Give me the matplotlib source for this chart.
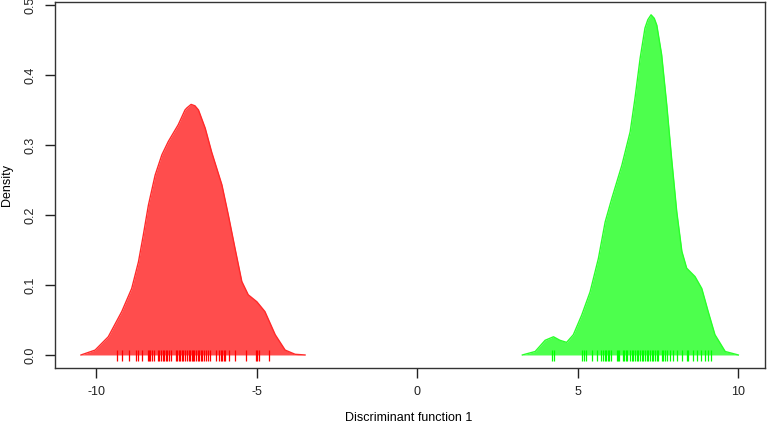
import matplotlib
matplotlib.use('Agg')
import matplotlib.pyplot as plt

plt.rcParams['font.family'] = ['Liberation Sans', 'DejaVu Sans']

# density curves (x, density)
red_x = [-10.47, -10.03, -9.62, -9.20, -8.89, -8.68, -8.53, -8.37, -8.16, -7.95,
         -7.75, -7.44, -7.23, -7.17, -7.04, -6.92, -6.81, -6.60, -6.40, -6.08,
         -5.88, -5.67, -5.46, -5.26, -4.99, -4.74, -4.42, -4.11, -3.80, -3.49]
red_d = [0.0, 0.007, 0.026, 0.062, 0.095, 0.133, 0.171, 0.214, 0.257, 0.286,
         0.305, 0.329, 0.350, 0.353, 0.358, 0.356, 0.350, 0.324, 0.290, 0.243,
         0.200, 0.152, 0.105, 0.086, 0.076, 0.062, 0.029, 0.007, 0.001, 0.0]

green_x = [3.28, 3.68, 3.99, 4.25, 4.45, 4.66, 4.87, 5.13, 5.39, 5.65,
           5.86, 6.07, 6.38, 6.64, 6.79, 6.95, 7.10, 7.19, 7.29, 7.39, 7.47,
           7.62, 7.78, 7.93, 8.09, 8.25, 8.40, 8.66, 8.87, 9.07, 9.28, 9.60, 10.01]
green_d = [0.0, 0.005, 0.021, 0.026, 0.021, 0.018, 0.029, 0.057, 0.090, 0.138,
           0.190, 0.224, 0.271, 0.319, 0.367, 0.424, 0.467, 0.479, 0.486, 0.481, 0.471,
           0.429, 0.357, 0.281, 0.205, 0.148, 0.124, 0.112, 0.095, 0.062, 0.029, 0.005, 0.0]

# individual scores (rug)
red_rug = [-9.36, -9.20, -8.96, -8.76, -8.68, -8.57, -8.39, -8.35, -8.32, -8.26,
           -8.21, -8.08, -8.03, -7.98, -7.93, -7.88, -7.82, -7.78, -7.72, -7.67,
           -7.52, -7.47, -7.42, -7.38, -7.33, -7.28, -7.22, -7.17, -7.12, -7.07,
           -7.02, -6.99, -6.94, -6.88, -6.84, -6.79, -6.74, -6.70, -6.64, -6.57,
           -6.50, -6.45, -6.27, -6.16, -6.12, -6.07, -6.03, -5.98, -5.85, -5.67,
           -5.34, -5.02, -4.98, -4.91, -4.62]
green_rug = [4.20, 4.27, 5.13, 5.20, 5.26, 5.44, 5.62, 5.73, 5.78, 5.84,
             5.89, 5.94, 5.99, 6.04, 6.22, 6.25, 6.29, 6.43, 6.46, 6.51,
             6.55, 6.64, 6.69, 6.74, 6.79, 6.84, 6.89, 6.95, 7.00, 7.05,
             7.10, 7.16, 7.21, 7.26, 7.31, 7.36, 7.41, 7.47, 7.52, 7.62,
             7.67, 7.73, 7.78, 7.88, 7.97, 8.09, 8.25, 8.40, 8.45, 8.61,
             8.71, 8.85, 8.97, 9.07, 9.15]

x_ticks = [-10, -5, 0, 5, 10]
y_ticks = [0.0, 0.1, 0.2, 0.3, 0.4, 0.5]

fig = plt.figure(figsize=(7.67, 4.24), dpi=100)
ax = fig.add_axes([55 / 767, 56 / 424, 710 / 767, 366 / 424])

groups = [(red_x, red_d, red_rug, '#ff4d4d', '#ff2a2a', 'red'),
          (green_x, green_d, green_rug, '#4dff4d', '#2aff2a', '#00ff00')]
for xs, ds, rug, fill, edge, rc in groups:
	ax.fill_between(xs, ds, 0, color=fill, lw=0, zorder=2)
	ax.plot(xs, ds, color=edge, lw=1.0, zorder=3)
	ax.vlines(rug, -0.0085, 0.0075, color=rc, lw=0.9, zorder=4)

ax.set_xlim(-11.28, 10.84)
ax.set_ylim(-0.0186, 0.5043)
ax.set_xticks(x_ticks)
ax.set_xticklabels(['-10', '-5', '0', '5', '10'])
ax.set_yticks(y_ticks)
ax.set_yticklabels(['0.0', '0.1', '0.2', '0.3', '0.4', '0.5'], rotation=90, va='center')
ax.tick_params(direction='out', length=7, width=1, labelsize=9, pad=6, colors='#222222')
for s in ax.spines.values():
	s.set_color('#333333')
	s.set_linewidth(1)

fig.text(409 / 767, 1 - 418 / 424, 'Discriminant function 1', fontsize=9,
         ha='center', va='center')
fig.text(7 / 767, 1 - 185 / 424, 'Density', fontsize=9, rotation=90,
         ha='center', va='center')

fig.savefig('out.png', dpi=100)
